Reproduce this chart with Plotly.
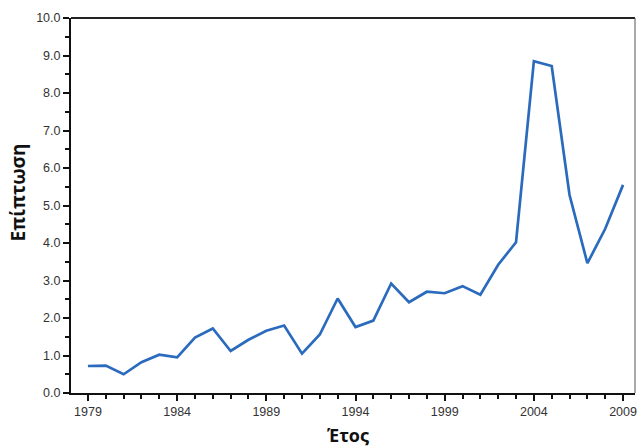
import plotly.graph_objects as go

# Annual incidence series
years = list(range(1979, 2010))
incidence = [0.72, 0.73, 0.50, 0.82, 1.02, 0.95, 1.48, 1.72, 1.12, 1.42, 1.66, 1.80,
             1.05, 1.56, 2.52, 1.76, 1.93, 2.92, 2.42, 2.70, 2.66, 2.85, 2.62, 3.42,
             4.02, 8.85, 8.72, 5.28, 3.46, 4.38, 5.55]

tick_years = [1979, 1984, 1989, 1994, 1999, 2004, 2009]
y_ticks = [0, 1, 2, 3, 4, 5, 6, 7, 8, 9, 10]

fig = go.Figure()
fig.add_trace(go.Scatter(
    x=years, y=incidence, mode="lines",
    line=dict(color="#2a6bbd", width=2.7),
    hoverinfo="x+y", showlegend=False,
))

tick_font = dict(family="Liberation Sans, Arial, sans-serif", size=12.5, color="#333")

fig.update_xaxes(
    range=[1978.05, 2009.67],
    tickvals=tick_years, ticktext=[str(t) for t in tick_years],
    ticks="outside", ticklen=6, tickwidth=2, tickcolor="#111",
    minor=dict(dtick=1, tick0=1979, ticks="outside", ticklen=4, tickwidth=1.5, tickcolor="#111"),
    showline=True, linecolor="#111", linewidth=2,
    showgrid=False, zeroline=False, tickfont=tick_font,
)
fig.update_yaxes(
    range=[0, 10],
    tickvals=y_ticks, ticktext=[f"{v:.1f}" for v in y_ticks],
    ticks="outside", ticklen=6, tickwidth=2, tickcolor="#111",
    minor=dict(dtick=0.5, ticks="outside", ticklen=4, tickwidth=1.5, tickcolor="#111"),
    showline=True, linecolor="#111", linewidth=2,
    showgrid=False, zeroline=False, tickfont=tick_font,
)

# Frame along the top and right edges
fig.add_shape(type="line", xref="paper", yref="paper", x0=0, x1=1, y0=1, y1=1,
              line=dict(color="#222", width=2))
fig.add_shape(type="line", xref="paper", yref="paper", x0=1, x1=1, y0=0, y1=1,
              line=dict(color="#555", width=1))

title_font = dict(family="Open Sans, Liberation Sans, sans-serif", size=19, color="#111")
fig.add_annotation(text="<b>Επίπτωση</b>", xref="paper", yref="paper", x=0, y=0.5,
                   xshift=-54, yshift=13, xanchor="center", yanchor="middle",
                   textangle=-90, showarrow=False, font=title_font)
fig.add_annotation(text="<b>Έτος</b>", xref="paper", yref="paper", x=0.5, y=0,
                   xshift=-5, yshift=-42, xanchor="center", yanchor="middle",
                   showarrow=False, font=dict(title_font, size=18))

fig.update_layout(
    width=641, height=448,
    margin=dict(l=71, r=4, t=18, b=55),
    paper_bgcolor="white", plot_bgcolor="white",
)

fig.write_html("out.html")
